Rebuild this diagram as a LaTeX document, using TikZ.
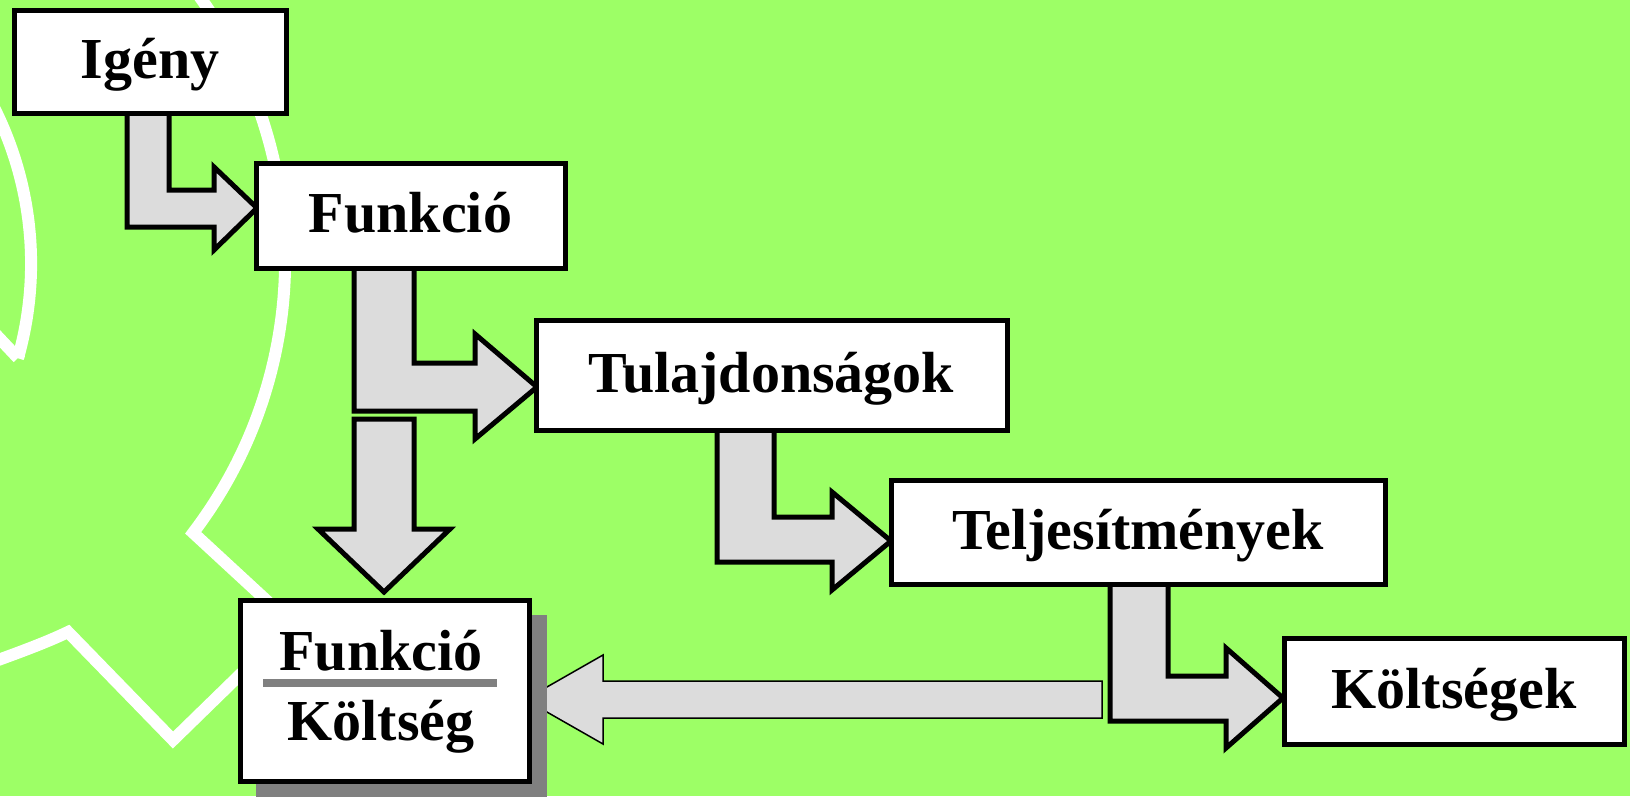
\documentclass[tikz,border=0pt]{standalone}
\usepackage{fontspec}
\setmainfont{Liberation Serif}
\definecolor{bggreen}{RGB}{157,255,102}
\definecolor{arrowgray}{RGB}{220,220,220}
\definecolor{shadowgray}{RGB}{128,128,128}
\begin{document}
\begin{tikzpicture}[x=1pt,y=-1pt,
  box/.style={draw=black, line width=5pt, fill=white, inner sep=0pt, outer sep=0pt,
    text height=34pt, text depth=0pt, font=\bfseries\fontsize{58}{68}\selectfont},
  lbl/.style={inner sep=0pt, anchor=base, font=\bfseries\fontsize{58}{68}\selectfont},
  blockarrow/.style={draw=black, line width=5pt, fill=arrowgray, line join=miter},
  thinarrow/.style={draw=black, line width=1.5pt, fill=arrowgray, line join=miter},
  gear/.style={draw=white, line width=12pt, line join=miter}
]
\fill[bggreen] (0,0) rectangle (1630,796);
\useasboundingbox (0,0) rectangle (1630,796);
\begin{scope}
\clip (0,0) rectangle (1630,796);
% decorative gear outline
\draw[gear] plot[domain=-38:37.3, samples=80] ({-164.4+449.5*cos(\x)}, {260.4+449.5*sin(\x)})
  -- (292,624) -- (173,740) -- (68,632) .. controls (45,643) and (20,652) .. (-10,663);
\draw[gear] (-14,324) -- (18,358)
  -- plot[domain=15.8:-29, samples=60] ({-315.9+347*cos(\x)}, {263.6+347*sin(\x)});
\end{scope}

% block arrows
\draw[blockarrow] (127,113) -- (127,227) -- (214,227) -- (214,250) -- (257,208) -- (214,167) -- (214,190) -- (169,190) -- (169,113) -- cycle;
\draw[blockarrow] (354,268) -- (354,411) -- (475,411) -- (475,439) -- (537,387) -- (475,334) -- (475,363) -- (414,363) -- (414,268) -- cycle;
\draw[blockarrow] (354,419) -- (354,529) -- (318,529) -- (384,592) -- (450,529) -- (414,529) -- (414,419) -- cycle;
\draw[blockarrow] (717,430) -- (717,562) -- (832,562) -- (832,590) -- (891,541) -- (832,492) -- (832,517) -- (774,517) -- (774,430) -- cycle;
\draw[blockarrow] (1110,584) -- (1110,721) -- (1226,721) -- (1226,748) -- (1283,698) -- (1226,648) -- (1226,676) -- (1168,676) -- (1168,584) -- cycle;
% long return arrow
\draw[thinarrow] (1102,681) -- (603,681) -- (603,655) -- (525,699.5) -- (603,744) -- (603,718) -- (1102,718) -- cycle;

% shadow of result box
\fill[shadowgray] (256,615) rectangle (547,800);

% boxes
\node[box, minimum width=272pt, minimum height=103pt] (igeny) at (150,61.5) {Igény};
\node[box, minimum width=309pt, minimum height=105pt] (funkcio) at (410.5,215.5) {Funkció};
\node[box, minimum width=471pt, minimum height=110pt] (tulaj) at (771.5,375) {Tulajdonságok};
\node[box, minimum width=494pt, minimum height=104pt] (telj) at (1138,532) {Teljesítmények};
\node[box, minimum width=340pt, minimum height=106pt] (kolts) at (1454,691) {Költségek};
\node[box, minimum width=289pt, minimum height=181pt] (fk) at (384.5,690.5) {};
\node[lbl] (fknum) at (381,670) {Funkció};
\node[lbl] (fkden) at (381,740) {Költség};
\draw[shadowgray, line width=8pt] (263,683) -- (497,683);
\end{tikzpicture}
\end{document}
